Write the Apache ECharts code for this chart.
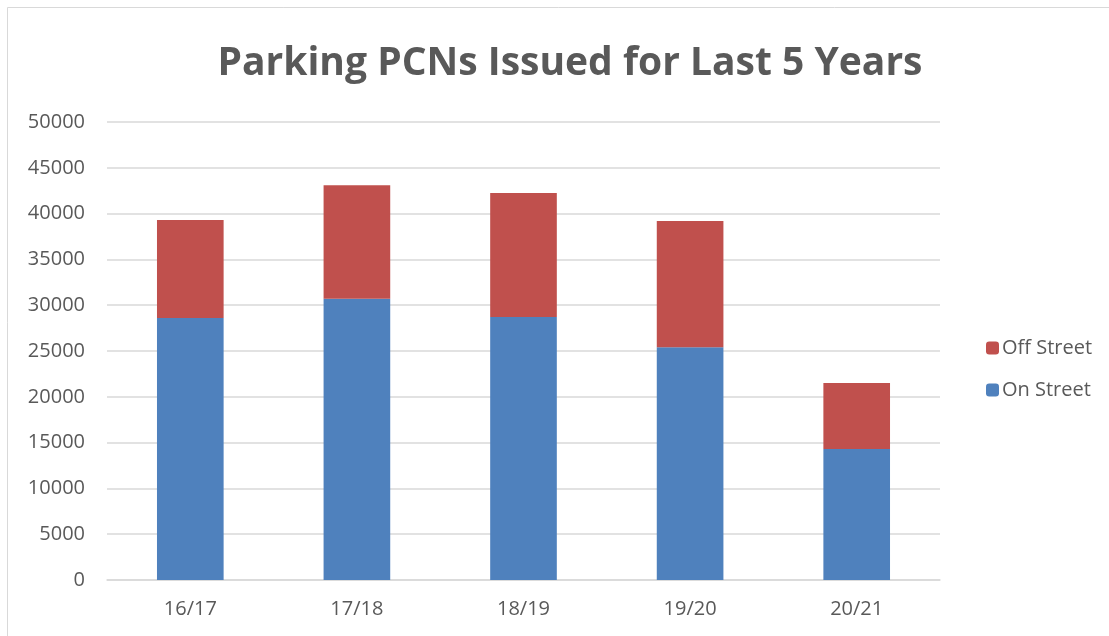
<!DOCTYPE html>
<html>
<head>
<meta charset="utf-8">
<script src="https://cdn.jsdelivr.net/npm/echarts@6/dist/echarts.min.js"></script>
<style>
html, body { margin: 0; padding: 0; background: #fff; }
#chart { width: 1109px; height: 636px; }
</style>
</head>
<body>
<div id="chart"></div>
<script>
var years = ['16/17', '17/18', '18/19', '19/20', '20/21'];
var onStreet = [28600, 30700, 28700, 25400, 14300];
var offStreet = [10700, 12400, 13550, 13800, 7200];

var myChart = echarts.init(document.getElementById('chart'));

var option = {
    backgroundColor: '#fff',
    animation: false,
    textStyle: { fontFamily: 'Open Sans' },
    title: {
        text: 'Parking PCNs Issued for Last 5 Years',
        left: 565,
        textAlign: 'center',
        top: 39,
        textStyle: { fontSize: 39, fontWeight: 'bold', color: '#595959', fontFamily: 'Open Sans' }
    },
    graphic: [{
        type: 'rect',
        shape: { x: 7.5, y: 7.5, width: 1120, height: 640 },
        style: { fill: 'none', stroke: '#d9d9d9', lineWidth: 1 }
    }],
    legend: {
        orient: 'vertical',
        left: 981,
        top: 333,
        itemWidth: 13,
        itemHeight: 13,
        itemGap: 22,
        data: ['Off Street', 'On Street'],
        textStyle: { fontSize: 20, color: '#595959', padding: [0, 0, 0, -2] }
    },
    grid: { left: 107, right: 169, top: 122, bottom: 56 },
    xAxis: {
        type: 'category',
        data: years,
        axisLine: { lineStyle: { color: '#d9d9d9', width: 1.5 } },
        axisTick: { show: false },
        axisLabel: { color: '#595959', fontSize: 20, margin: 19 }
    },
    yAxis: {
        type: 'value',
        min: 0,
        max: 50000,
        interval: 5000,
        axisLine: { show: false },
        axisTick: { show: false },
        axisLabel: {
            color: '#595959',
            fontSize: 20,
            margin: 22,
            formatter: function (v) { return String(v); }
        },
        splitLine: { lineStyle: { color: '#d9d9d9', width: 1.5 } }
    },
    series: [{
        name: 'On Street',
        type: 'bar',
        stack: 'total',
        barWidth: '40%',
        itemStyle: { color: '#4f81bd' },
        data: onStreet
    }, {
        name: 'Off Street',
        type: 'bar',
        stack: 'total',
        barWidth: '40%',
        itemStyle: { color: '#c0504d' },
        data: offStreet
    }]
};

myChart.setOption(option);
</script>
</body>
</html>
